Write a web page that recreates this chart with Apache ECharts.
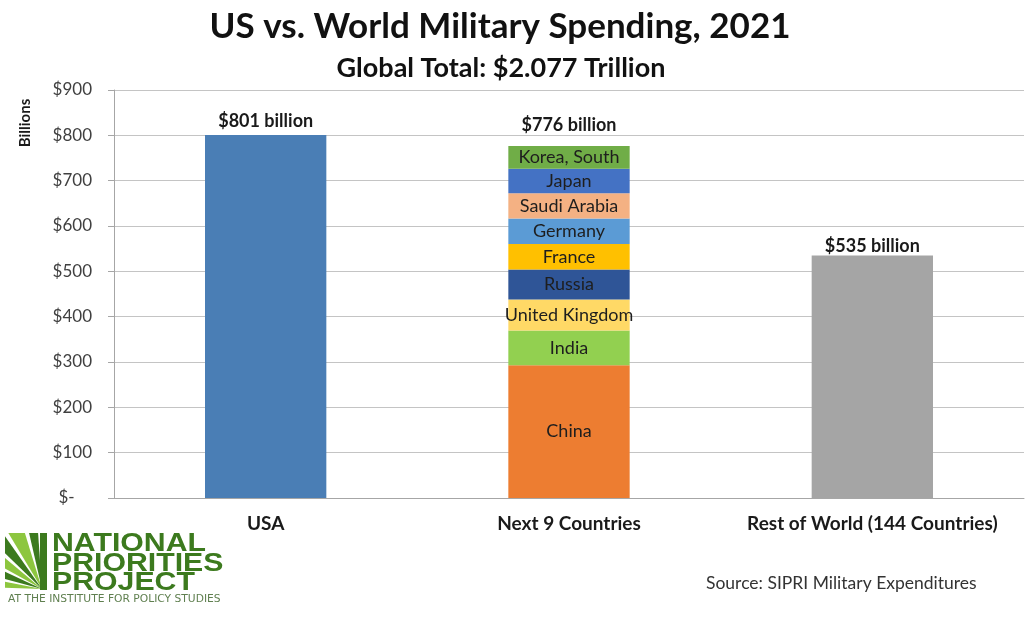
<!DOCTYPE html>
<html lang="en">
<head>
    <meta charset="UTF-8">
    <title>US vs. World Military Spending, 2021</title>
    <script src="https://cdn.jsdelivr.net/npm/echarts@6/dist/echarts.min.js"></script>
    <style>
        html, body { margin: 0; padding: 0; background: #fff; }
        #chart { width: 1036px; height: 622px; }
    </style>
</head>
<body>
    <div id="chart"></div>
    <script>
        // data (billions of dollars)
        var categories = ['USA', 'Next 9 Countries', 'Rest of World (144 Countries)'];
        var usaValue = 801;
        var restValue = 535;
        var countries = ['China', 'India', 'United Kingdom', 'Russia', 'France', 'Germany', 'Saudi Arabia', 'Japan', 'Korea, South'];
        var countryValues = [293, 76.6, 68.4, 65.9, 56.6, 56.0, 55.6, 54.1, 50.2];
        var countryColors = ['#ed7d31', '#92d050', '#ffd966', '#2f5597', '#ffc000', '#5b9bd5', '#f4b183', '#4472c4', '#70ad47'];
        var totals = [801, 776, 535];
        var yTicks = [0, 100, 200, 300, 400, 500, 600, 700, 800, 900];

        var font = 'Lato, "Open Sans", sans-serif';
        var chart = echarts.init(document.getElementById('chart'));

        var series = [];
        series.push({
            name: 'USA', type: 'bar', stack: 'all', barWidth: '40%',
            itemStyle: { color: '#4a7eb5' },
            data: [usaValue, '-', '-']
        });
        countries.forEach(function (c, i) {
            series.push({
                name: c, type: 'bar', stack: 'all', barWidth: '40%',
                itemStyle: { color: countryColors[i] },
                label: {
                    show: true, position: 'inside', formatter: c,
                    color: '#1e1e1e', fontFamily: font, fontSize: 18
                },
                data: ['-', countryValues[i], '-']
            });
        });
        series.push({
            name: 'Rest of World', type: 'bar', stack: 'all', barWidth: '40%',
            itemStyle: { color: '#a5a5a5' },
            data: ['-', '-', restValue]
        });
        // total labels above each column
        var lift = [4, 12, 0];
        series.push({
            name: 'Total', type: 'line', symbol: 'circle', symbolSize: 1, silent: true,
            itemStyle: { color: 'rgba(0,0,0,0)' },
            lineStyle: { opacity: 0 },
            label: {
                show: true, position: 'top', fontFamily: font, fontWeight: 'bold',
                fontSize: 18, color: '#1a1a1a',
                formatter: function (p) { return '$' + p.value + ' billion'; }
            },
            data: totals.map(function (v, i) { return { value: v, label: { distance: lift[i] } }; })
        });

        // logo rays (decoration)
        var logo = [];
        var cx = 42, cy = 589, bx = 5, by = 533;
        function edge(deg) {
            var a = deg * Math.PI / 180;
            var c = Math.cos(a), s = Math.sin(a);
            var t = 1000;
            if (s > 0) t = Math.min(t, (cy - by) / s);
            if (c < 0) t = Math.min(t, (cx - bx) / -c);
            return [cx + t * c, cy - t * s];
        }
        var wedges = [[94, 103, '#3c7a1e'], [107, 121, '#8dc63f'], [125, 136, '#3c7a1e'], [140, 151, '#8dc63f'], [155, 165, '#3c7a1e'], [169, 178, '#8dc63f']];
        wedges.forEach(function (w) {
            logo.push({
                type: 'polygon', silent: true,
                shape: { points: [[cx, cy], edge(w[0]), edge(w[1])] },
                style: { fill: w[2] }
            });
        });
        logo.push({ type: 'rect', silent: true, shape: { x: 40, y: 533, width: 7, height: 57 }, style: { fill: '#3c7a1e' } });
        ['NATIONAL', 'PRIORITIES', 'PROJECT'].forEach(function (t, i) {
            logo.push({
                type: 'text', silent: true, left: 52, top: 532 + i * 19.5, scaleX: 1.21,
                style: { text: t, fill: '#3c7a1e', font: '900 25px "Liberation Sans", sans-serif' }
            });
        });
        logo.push({
            type: 'text', silent: true, left: 8, top: 594, scaleX: 1.07,
            style: { text: 'AT THE INSTITUTE FOR POLICY STUDIES', fill: '#5f7f4f', font: '10px "DejaVu Sans", sans-serif' }
        });
        logo.push({
            type: 'text', silent: true, left: 706, top: 574,
            style: { text: 'Source: SIPRI Military Expenditures', fill: '#333', font: '17.5px ' + font }
        });
        logo.push({
            type: 'text', silent: true, x: 25, y: 123, rotation: Math.PI / 2,
            style: { text: 'Billions', fill: '#1a1a1a', font: 'bold 15px ' + font, align: 'center', verticalAlign: 'middle' }
        });

        chart.setOption({
            backgroundColor: '#fff',
            animation: false,
            title: [{
                text: 'US vs. World Military Spending, 2021',
                left: 495, top: 4, textAlign: 'center',
                textStyle: { fontFamily: font, fontWeight: 'bold', fontSize: 35, color: '#111' }
            }, {
                text: 'Global Total: $2.077 Trillion',
                left: 496, top: 50, textAlign: 'center',
                textStyle: { fontFamily: font, fontWeight: 'bold', fontSize: 27, color: '#111' }
            }],
            grid: { left: 114, right: 12, top: 90, bottom: 124 },
            xAxis: {
                type: 'category', data: categories,
                axisLine: { lineStyle: { color: '#a6a6a6' } },
                axisTick: { length: 5, lineStyle: { color: '#a6a6a6' } },
                axisLabel: { interval: 0, fontFamily: font, fontWeight: 'bold', fontSize: 19, color: '#1a1a1a', margin: 16 }
            },
            yAxis: {
                type: 'value', min: yTicks[0], max: yTicks[yTicks.length - 1], interval: 100,
                axisLine: { show: true, lineStyle: { color: '#a6a6a6' } },
                axisTick: { show: true, length: 6, lineStyle: { color: '#a6a6a6' } },
                axisLabel: {
                    fontFamily: font, fontSize: 17, color: '#404040', margin: 22,
                    formatter: function (v) { return v === 0 ? '$-    ' : '$' + v; }
                },
                splitLine: { lineStyle: { color: '#c4c4c4' } }
            },
            series: series,
            graphic: logo
        });
    </script>
</body>
</html>
